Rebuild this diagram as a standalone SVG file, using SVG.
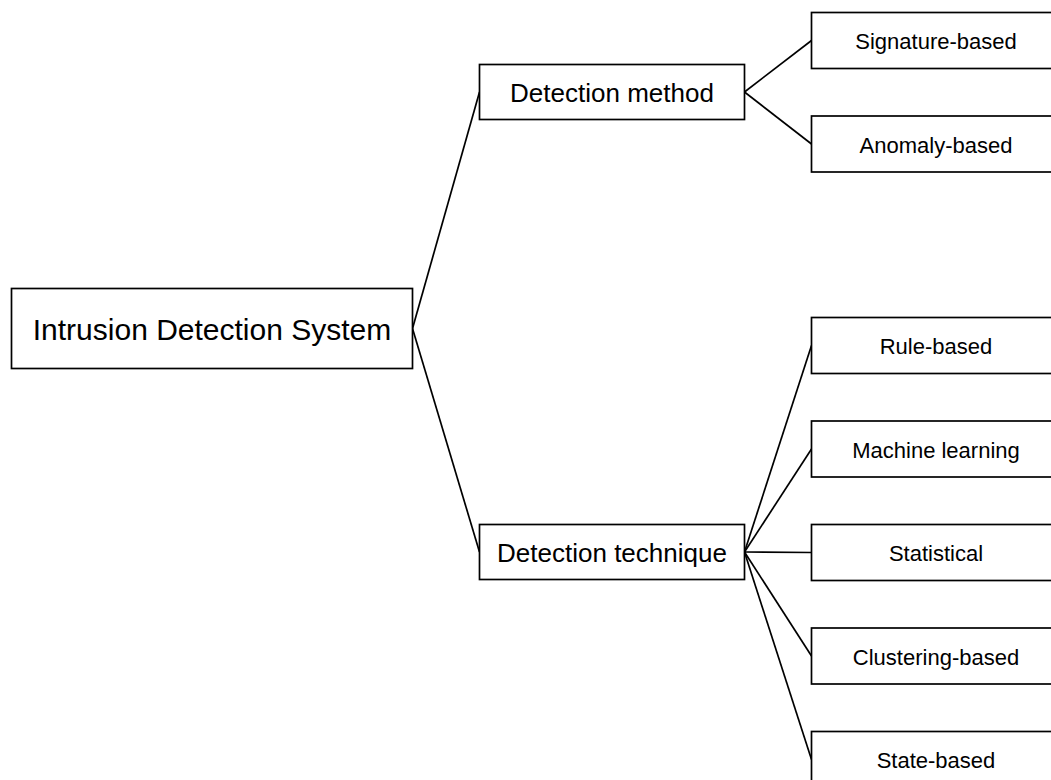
<svg xmlns="http://www.w3.org/2000/svg" width="1051" height="780" viewBox="0 0 1051 780">
<style>
rect{fill:#fff;stroke:#000;stroke-width:1.7}
line{stroke:#000;stroke-width:1.7}
text{font-family:"Liberation Sans",Arial,sans-serif;fill:#000;text-anchor:middle}
.t0{font-size:30px}
.t1{font-size:26px}
.t2{font-size:22px}
</style>
<rect width="1051" height="780" style="stroke:none"/>
<g id="connectors">
<line x1="412.5" y1="328.5" x2="479.5" y2="92"/>
<line x1="412.5" y1="328.5" x2="479.5" y2="552"/>
<line x1="744.5" y1="92" x2="811.5" y2="40.5"/>
<line x1="744.5" y1="92" x2="811.5" y2="144"/>
<line x1="744.5" y1="552" x2="811.5" y2="345.5"/>
<line x1="744.5" y1="552" x2="811.5" y2="449"/>
<line x1="744.5" y1="552" x2="811.5" y2="552.5"/>
<line x1="744.5" y1="552" x2="811.5" y2="656"/>
<line x1="744.5" y1="552" x2="811.5" y2="759.5"/>
</g>
<g id="ids"><rect x="11.5" y="288.5" width="401" height="80"/><text class="t0" x="212" y="339.5">Intrusion Detection System</text></g>
<g id="method"><rect x="479.5" y="64.5" width="265" height="55"/><text class="t1" x="612" y="101.8">Detection method</text></g>
<g id="technique"><rect x="479.5" y="524.5" width="265" height="55"/><text class="t1" x="612" y="561.8">Detection technique</text></g>
<g id="signature"><rect x="811.5" y="12.5" width="250" height="56"/><text class="t2" x="936" y="49">Signature-based</text></g>
<g id="anomaly"><rect x="811.5" y="116" width="250" height="56"/><text class="t2" x="936" y="152.5">Anomaly-based</text></g>
<g id="rule"><rect x="811.5" y="317.5" width="250" height="56"/><text class="t2" x="936" y="354">Rule-based</text></g>
<g id="ml"><rect x="811.5" y="421" width="250" height="56"/><text class="t2" x="936" y="457.5">Machine learning</text></g>
<g id="statistical"><rect x="811.5" y="524.5" width="250" height="56"/><text class="t2" x="936" y="561">Statistical</text></g>
<g id="clustering"><rect x="811.5" y="628" width="250" height="56"/><text class="t2" x="936" y="664.5">Clustering-based</text></g>
<g id="state"><rect x="811.5" y="731.5" width="250" height="56"/><text class="t2" x="936" y="768">State-based</text></g>
</svg>
